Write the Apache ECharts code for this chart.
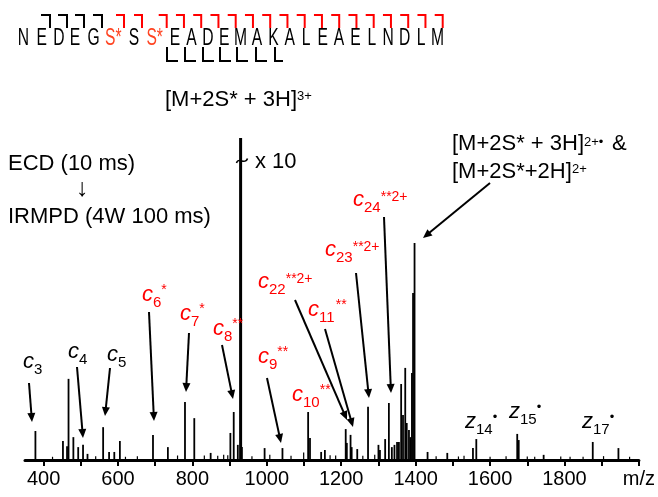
<!DOCTYPE html>
<html>
<head>
<meta charset="utf-8">
<script src="https://cdn.jsdelivr.net/npm/echarts@6/dist/echarts.min.js"></script>
<style>
  html, body { margin: 0; padding: 0; background: #fff; }
  #chart { width: 658px; height: 497px; }
</style>
</head>
<body>
<div id="chart"></div>
<script>
// Peptide sequence (S* = modified serine)
const residues = ['N','E','D','E','G','S*','S','S*','E','A','D','E','M','A','K','A','L','E','A','E','L','N','D','L','M'];

// Fragment / product ion peaks (m/z, relative intensity, x10 scale)
const fragMz  = [378, 452, 463, 467, 480, 493, 506, 518, 560, 576, 590, 605, 694, 734, 780, 805, 849,
                 902, 911, 922, 933, 994, 1042, 1111, 1116, 1146, 1156, 1212, 1215, 1225, 1228, 1243,
                 1272, 1300, 1304, 1318, 1328, 1336, 1343, 1350, 1355, 1361, 1366, 1372, 1376, 1382,
                 1386, 1390, 1393, 1397, 1432, 1485, 1554, 1563, 1673, 1677, 1744, 1876, 1945];
const fragInt = [9.0, 5.9, 4.3, 25.2, 7.1, 4.0, 4.7, 1.9, 10.2, 2.5, 2.5, 5.9, 7.8, 4.0, 18.0, 13.0, 2.2,
                 8.4, 14.9, 4.7, 4.0, 3.7, 3.7, 14.9, 6.8, 2.5, 3.1, 9.6, 5.3, 7.8, 4.0, 3.4,
                 16.5, 4.7, 3.1, 6.5, 17.7, 4.0, 4.7, 5.6, 5.6, 23.6, 14.0, 28.6, 11.5, 9.3,
                 7.1, 27.0, 51.9, 67.4, 2.5, 2.2, 3.7, 6.5, 8.1, 6.2, 1.6, 5.6, 3.7];

// Precursor [M+2S*+3H]3+ (off scale)
const precursorMz  = [929.5];
const precursorInt = [100];

// Baseline chemical noise
const noiseMz  = [424, 540, 620, 652, 760, 832, 868, 884, 895, 960, 1008, 1065, 1099, 1170, 1185,
                  1258, 1290, 1455, 1515, 1530, 1600, 1643, 1700, 1720, 1790, 1815, 1850, 1905, 1975];
const noiseInt = [1.0, 1.2, 1.0, 1.2, 1.4, 1.4, 1.3, 1.6, 1.5, 1.2, 1.6, 1.3, 2.3, 1.5, 1.4,
                  1.3, 1.6, 1.2, 1.1, 1.3, 1.0, 1.2, 1.1, 1.0, 1.1, 1.0, 1.0, 1.2, 1.0];

// Axis ticks and labels
const xTicks  = [400, 500, 600, 700, 800, 900, 1000, 1100, 1200, 1300, 1400, 1500, 1600, 1700, 1800, 1900, 2000];
const xLabels = [400, 600, 800, 1000, 1200, 1400, 1600, 1800, 2000];

const FONT = "'Liberation Sans', Arial, Helvetica, sans-serif";
const RED = '#ff0000';
const SEQ_RED = '#ff4422';

function pairs(xs, ys) { return xs.map((x, i) => [x, ys[i]]); }

function stickSeries(name, data, width) {
  return {
    type: 'custom',
    name: name,
    data: data,
    clip: false,
    renderItem: function (params, api) {
      const p0 = api.coord([api.value(0), 0]);
      const p1 = api.coord([api.value(0), api.value(1)]);
      return {
        type: 'line',
        shape: { x1: p0[0], y1: p0[1], x2: p1[0], y2: p1[1] },
        style: { stroke: '#000', lineWidth: width }
      };
    }
  };
}

// ---- annotation helpers ----
const g = [];
function txt(text, x, base, fs, o) {
  o = o || {};
  const el = {
    type: 'text',
    x: x,
    y: base - 0.35 * fs,
    z: 100,
    style: {
      text: text,
      fontSize: fs,
      fontFamily: FONT,
      fontStyle: o.italic ? 'italic' : 'normal',
      fill: o.color || '#000',
      align: o.align || 'left',
      textAlign: o.align || 'left',
      verticalAlign: 'middle',
      textVerticalAlign: 'middle'
    }
  };
  if (o.scaleX) el.scaleX = o.scaleX;
  g.push(el);
}
function seg(x1, y1, x2, y2, color, w) {
  g.push({ type: 'line', z: 100, shape: { x1, y1, x2, y2 }, style: { stroke: color || '#000', lineWidth: w || 2 } });
}
function arrow(x1, y1, x2, y2) {
  const dx = x2 - x1, dy = y2 - y1, L = Math.hypot(dx, dy);
  const ux = dx / L, uy = dy / L, hl = 9, hw = 4;
  const bx = x2 - ux * hl, by = y2 - uy * hl;
  seg(x1, y1, bx + ux * 2, by + uy * 2, '#000', 2);
  g.push({ type: 'polygon', z: 100,
    shape: { points: [[x2, y2], [bx - uy * hw, by + ux * hw], [bx + uy * hw, by - ux * hw]] },
    style: { fill: '#000' } });
}
function ion(letter, sub, sup, x, base, color) {
  const c = color || '#000';
  txt(letter, x, base, 22, { italic: true, color: c });
  const sx = x + 11;
  txt(sub, sx, base + 5, 15, { color: c });
  if (sup) {
    const px = sx + sub.length * 8.34;
    const dy = sup.indexOf('2+') >= 0 ? -6 : -8;
    txt(sup, px, base + dy, sup === '•' ? 13 : 14, { color: c });
  }
}

// ---- peptide sequence with fragment brackets ----
const seqX = [23.3, 41.7, 59, 75, 93.7, 110.7, 134, 152];
for (let i = 8; i < residues.length; i++) seqX.push(175 + (i - 8) * 16.4);
residues.forEach((r, i) => {
  const col = r === 'S*' ? SEQ_RED : '#000';
  const left = seqX[i] - (r === 'S*' ? 5.6 : 0);
  txt(r, left, 47, 23, { color: col, align: r === 'S*' ? 'left' : 'center', scaleX: 0.68 });
});
// c-ion brackets above the sequence
[50, 67, 84, 102].forEach(v => { seg(v - 9, 15, v, 15, '#000', 2); seg(v, 14, v, 28, '#000', 2); });
const redTop = [124, 142];
for (let k = 0; k < 17; k++) redTop.push(166.7 + k * 17.25);
redTop.forEach(v => { seg(v - 8, 15, v, 15, RED, 2); seg(v, 14, v, 28, RED, 2); });
// z-ion brackets below the sequence
[167, 185, 203, 220, 237, 256, 275].forEach((v, i) => {
  seg(v, 47, v, 62, '#000', 2); seg(v - 1, 61, v + (i === 6 ? 8 : 11), 61, '#000', 2);
});

// ---- text annotations ----
txt('[M+2S* + 3H]', 165, 108, 22);
txt('3+', 297, 101, 13);
txt('ECD (10 ms)', 8, 172, 22);
txt('\u2193', 82, 198, 25, { align: 'center' });
txt('IRMPD (4W 100 ms)', 8, 225, 22);
// axis-break tilde on the off-scale precursor
g.push({ type: 'bezierCurve', z: 100,
  shape: { x1: 236.5, y1: 163, cpx1: 238.5, cpy1: 156.5, cpx2: 245, cpy2: 165.5, x2: 247.5, y2: 158.5 },
  style: { stroke: '#000', lineWidth: 1.6, fill: null } });
txt('x 10', 255, 170, 22);
txt('[M+2S* + 3H]', 452, 152, 22);
txt('2+\u2022', 584, 147, 13);
txt('&', 612, 152, 22);
txt('[M+2S*+2H]', 452, 180, 22);
txt('2+', 572, 174, 13);

// ion labels
ion('c', '3', '', 23, 370);
ion('c', '4', '', 68, 360);
ion('c', '5', '', 107, 363);
ion('c', '6', '*', 142, 303, RED);
ion('c', '7', '*', 180, 322, RED);
ion('c', '8', '**', 213, 337, RED);
ion('c', '9', '**', 258, 365, RED);
ion('c', '10', '**', 292, 403, RED);
ion('c', '11', '**', 308, 318, RED);
ion('c', '22', '**2+', 258, 290, RED);
ion('c', '23', '**2+', 325, 258, RED);
ion('c', '24', '**2+', 353, 208, RED);
ion('z', '14', '\u2022', 465, 430);
ion('z', '15', '\u2022', 509, 420);
ion('z', '17', '\u2022', 582, 430);

// arrows pointing at assigned peaks
[[29, 383, 32, 422], [77, 367, 83, 438], [110, 368, 105, 416], [149, 312, 154, 421],
 [189, 333, 186, 392], [222, 345, 233, 399], [267, 378, 281, 443], [295, 300, 347, 420],
 [325, 329, 353, 427], [356, 273, 369, 398], [384, 217, 391, 393], [490, 183, 423, 238]]
  .forEach(a => arrow(a[0], a[1], a[2], a[3]));

const chart = echarts.init(document.getElementById('chart'), null, { renderer: 'canvas' });
chart.setOption({
  animation: false,
  backgroundColor: '#fff',
  grid: { left: 25, right: 16, top: 138, bottom: 37, containLabel: false },
  xAxis: {
    type: 'value',
    min: 350,
    max: 2000,
    axisLine: { show: true, onZero: false, lineStyle: { color: '#000', width: 3 } },
    axisTick: { show: true, customValues: xTicks, length: 6, lineStyle: { color: '#000', width: 2 } },
    axisLabel: {
      customValues: xLabels,
      formatter: v => (v === 2000 ? 'm/z' : String(v)),
      fontSize: 20,
      fontFamily: FONT,
      color: '#000',
      margin: 9
    },
    splitLine: { show: false }
  },
  yAxis: { type: 'value', min: 0, max: 100, show: false },
  series: [
    stickSeries('noise', pairs(noiseMz, noiseInt), 1.2),
    stickSeries('fragments', pairs(fragMz, fragInt), 1.8),
    stickSeries('precursor', pairs(precursorMz, precursorInt), 3)
  ],
  graphic: { elements: g }
});
</script>
</body>
</html>
